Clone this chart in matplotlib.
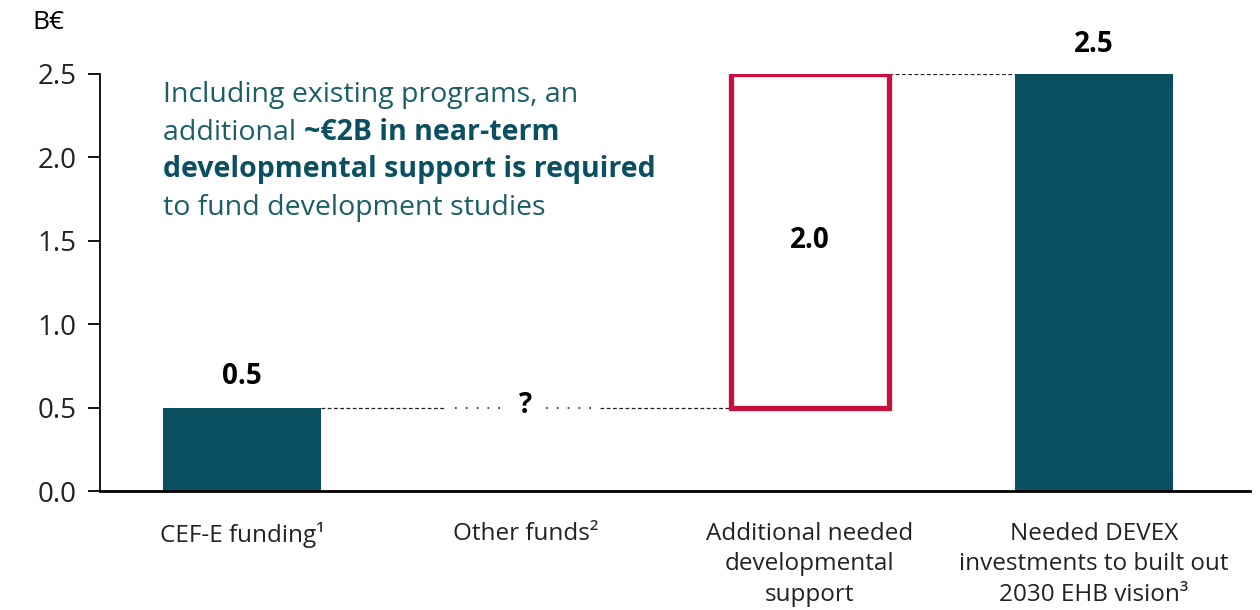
import matplotlib.pyplot as plt

# data
categories = ['CEF-E funding¹', 'Other funds²',
              'Additional needed\ndevelopmental\nsupport',
              'Needed DEVEX\ninvestments to built out\n2030 EHB vision³']
bar_bottoms = [0.0, 0.5, 0.5, 0.0]
bar_values = [0.5, 0.0, 2.0, 2.5]
value_labels = ['0.5', '?', '2.0', '2.5']
y_ticks = [0.0, 0.5, 1.0, 1.5, 2.0, 2.5]

teal = '#0b5060'
red = '#c8103e'
text_teal = '#1b5e66'

plt.rcParams['font.family'] = ['Open Sans', 'DejaVu Sans']

fig = plt.figure(figsize=(12.6, 6.1), dpi=100)
ax = fig.add_axes([0.0794, 0.195, 0.9126, 0.6837])

x = list(range(len(categories)))
w = 0.556

# solid bars
for i in [0, 3]:
    ax.bar(x[i], bar_values[i], bottom=bar_bottoms[i], width=w, color=teal, zorder=2)
# outlined bar
ax.bar(x[2], bar_values[2], bottom=bar_bottoms[2], width=w, facecolor='white',
       edgecolor=red, linewidth=3.8, zorder=2)

# connectors
ax.plot([x[0] + w / 2, 0.72], [0.5, 0.5], color='#222222', lw=0.9, ls=(0, (3, 2)), zorder=1)
ax.plot([0.75, 0.92], [0.5, 0.5], color='#222222', lw=1.2, ls=(0, (1, 5.5)), zorder=1)
ax.plot([1.07, 1.24], [0.5, 0.5], color='#222222', lw=1.2, ls=(0, (1, 5.5)), zorder=1)
ax.plot([1.26, x[2] - w / 2], [0.5, 0.5], color='#222222', lw=0.9, ls=(0, (3, 2)), zorder=1)
ax.plot([x[2] + w / 2, x[3] - w / 2], [2.5, 2.5], color='#222222', lw=0.9, ls=(0, (3, 2)), zorder=1)

# value labels
vfs = 20
ax.text(x[0], bar_bottoms[0] + bar_values[0] + 0.1, value_labels[0], ha='center', va='bottom',
        fontsize=vfs, fontweight='bold', color='black')
ax.text(x[1], bar_bottoms[1] + 0.01, value_labels[1], ha='center', va='center',
        fontsize=vfs, fontweight='bold', color='black')
ax.text(x[2], bar_bottoms[2] + bar_values[2] / 2, value_labels[2], ha='center', va='center',
        fontsize=vfs, fontweight='bold', color='black')
ax.text(x[3], bar_bottoms[3] + bar_values[3] + 0.09, value_labels[3], ha='center', va='bottom',
        fontsize=vfs, fontweight='bold', color='black', clip_on=False)

# axes styling
ax.set_xlim(-0.5, 3.55)
ax.set_ylim(0, 2.5)
ax.set_yticks(y_ticks)
ax.set_yticklabels([f'{v:.1f}' for v in y_ticks], fontsize=20, color='#222222')
ax.set_xticks(x)
ax.set_xticklabels(categories, fontsize=17.5, linespacing=1.36, va='top', color='#222222')
ax.tick_params(axis='x', length=0, pad=22)
ax.tick_params(axis='y', length=9, width=1.3, pad=8)
for s in ['top', 'right']:
    ax.spines[s].set_visible(False)
ax.spines['left'].set_linewidth(1.3)
ax.spines['bottom'].set_linewidth(2)

fig.text(0.038, 0.963, 'B€', fontsize=19, va='center', ha='center')

# annotation with mixed weights
fs = 20.5
x0 = 163 / 1260
ys = [1 - 95 / 610, 1 - 133 / 610, 1 - 170 / 610, 1 - 208 / 610]
fig.text(x0, ys[0], 'Including existing programs, an', fontsize=fs,
         color=text_teal, va='center')
t = fig.text(x0, ys[1], 'additional ', fontsize=fs, color=text_teal, va='center')
fig.canvas.draw()
bb = t.get_window_extent()
fig.text(bb.x1 / 1260, ys[1], '~€2B in near-term', fontsize=fs, fontweight='bold',
         color=teal, va='center')
fig.text(x0, ys[2], 'developmental support is required', fontsize=fs, fontweight='bold',
         color=teal, va='center')
fig.text(x0, ys[3], 'to fund development studies', fontsize=fs,
         color=text_teal, va='center')

fig.savefig('out.png', dpi=100)
